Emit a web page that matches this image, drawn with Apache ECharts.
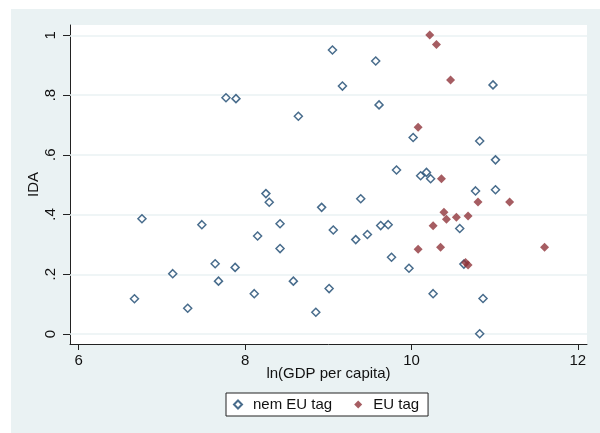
<!DOCTYPE html>
<html>
<head>
<meta charset="utf-8">
<script src="https://cdn.jsdelivr.net/npm/echarts@6/dist/echarts.min.js"></script>
<style>
  html, body { margin: 0; padding: 0; background: #ffffff; }
  #chart { width: 600px; height: 433px; }
</style>
</head>
<body>
<div id="chart"></div>
<script>
// ln(GDP per capita), IDA  -- non-EU countries ("nem EU tag")
const nonEuX = [6.67, 6.76, 7.13, 7.31, 7.48, 7.64, 7.68, 7.77, 7.89, 7.88, 8.11, 8.15, 8.25, 8.29, 8.42, 8.42, 8.58, 8.64, 8.85, 8.92, 9.01, 9.05, 9.06, 9.17, 9.33, 9.39, 9.47, 9.57, 9.61, 9.63, 9.72, 9.76, 9.82, 9.97, 10.02, 10.11, 10.18, 10.23, 10.26, 10.58, 10.63, 10.77, 10.82, 10.82, 10.86, 10.98, 11.01, 11.01];
const nonEuY = [0.118, 0.386, 0.202, 0.086, 0.366, 0.235, 0.177, 0.791, 0.788, 0.223, 0.135, 0.328, 0.470, 0.441, 0.369, 0.286, 0.177, 0.729, 0.073, 0.424, 0.152, 0.951, 0.348, 0.830, 0.316, 0.453, 0.333, 0.914, 0.767, 0.363, 0.366, 0.257, 0.549, 0.220, 0.658, 0.530, 0.541, 0.520, 0.135, 0.353, 0.234, 0.479, 0.646, 0.001, 0.119, 0.834, 0.583, 0.483];
// EU countries ("EU tag")
const euX = [10.08, 10.08, 10.22, 10.26, 10.30, 10.35, 10.36, 10.39, 10.42, 10.47, 10.54, 10.65, 10.68, 10.68, 10.80, 11.18, 11.60];
const euY = [0.692, 0.284, 1.001, 0.362, 0.969, 0.290, 0.520, 0.408, 0.384, 0.850, 0.391, 0.239, 0.231, 0.395, 0.442, 0.442, 0.290];

const seriesNames = ['nem EU tag', 'EU tag'];
const xTicks = [6, 8, 10, 12];
const yTicks = [0, 0.2, 0.4, 0.6, 0.8, 1];
const yTickLabels = ['0', '.2', '.4', '.6', '.8', '1'];
const xTitle = 'ln(GDP per capita)';
const yTitle = 'IDA';

const zip = (xs, ys) => xs.map((x, i) => [x, ys[i]]);
const FONT = '"Liberation Sans", Arial, sans-serif';
const TXT = '#111111';

const chart = echarts.init(document.getElementById('chart'), null, { renderer: 'canvas' });
chart.setOption({
  animation: false,
  backgroundColor: '#ffffff',
  textStyle: { fontFamily: FONT },
  graphic: [{
    type: 'rect', z: -10, silent: true,
    shape: { x: 11, y: 9, width: 589, height: 424 },
    style: { fill: '#eaf2f3' }
  }],
  grid: {
    left: 70, right: 13, top: 25, bottom: 89,
    show: true, backgroundColor: '#ffffff', borderWidth: 0
  },
  legend: {
    data: seriesNames,
    left: 226, top: 393,
    orient: 'horizontal',
    icon: 'diamond',
    itemWidth: 8, itemHeight: 8, itemGap: 22,
    padding: [4, 9, 4, 7],
    borderColor: '#222', borderWidth: 1,
    backgroundColor: '#ffffff',
    textStyle: { fontSize: 15, color: TXT, fontFamily: FONT, padding: [0, 0, 0, 6] }
  },
  xAxis: {
    type: 'value', min: 5.895, max: 12.11,
    name: xTitle, nameLocation: 'middle', nameGap: 22, nameMoveOverlap: false,
    nameTextStyle: { fontSize: 15, color: TXT, fontFamily: FONT },
    axisLine: { show: true, onZero: false, lineStyle: { color: '#222', width: 1 } },
    axisTick: { show: true, length: 6, customValues: xTicks, lineStyle: { color: '#222' } },
    axisLabel: { customValues: xTicks, margin: 9, fontSize: 15, color: TXT, fontFamily: FONT },
    splitLine: { show: false }
  },
  yAxis: {
    type: 'value', min: -0.0335, max: 1.0345,
    name: yTitle, nameLocation: 'middle', nameGap: 29, nameRotate: 90, nameMoveOverlap: false,
    nameTextStyle: { fontSize: 15, color: TXT, fontFamily: FONT },
    axisLine: { show: true, onZero: false, lineStyle: { color: '#222', width: 1 } },
    axisTick: { show: true, length: 7, customValues: yTicks, lineStyle: { color: '#222' } },
    axisLabel: {
      customValues: yTicks, rotate: 90, margin: 12, fontSize: 15, color: TXT, fontFamily: FONT,
      formatter: (v) => {
        const i = yTicks.findIndex(t => Math.abs(t - v) < 1e-9);
        return i >= 0 ? yTickLabels[i] : '';
      }
    },
    splitLine: { show: false }
  },
  series: [
    {
      name: '__grid', type: 'line', data: [], z: 1, silent: true,
      markLine: {
        z: 1, silent: true, symbol: ['none', 'none'], animation: false,
        label: { show: false },
        lineStyle: { color: '#eaf2f3', type: 'solid', width: 1.5 },
        data: yTicks.map(v => ({ yAxis: v }))
      }
    },
    {
      name: seriesNames[0], type: 'scatter', z: 3,
      symbol: 'diamond', symbolSize: 8,
      itemStyle: { color: '#ffffff', borderColor: '#1a476f', borderWidth: 1.5 },
      data: zip(nonEuX, nonEuY)
    },
    {
      name: seriesNames[1], type: 'scatter', z: 4,
      symbol: 'diamond', symbolSize: 9,
      itemStyle: { color: '#90353b', borderWidth: 0 },
      data: zip(euX, euY)
    }
  ]
});
</script>
</body>
</html>
